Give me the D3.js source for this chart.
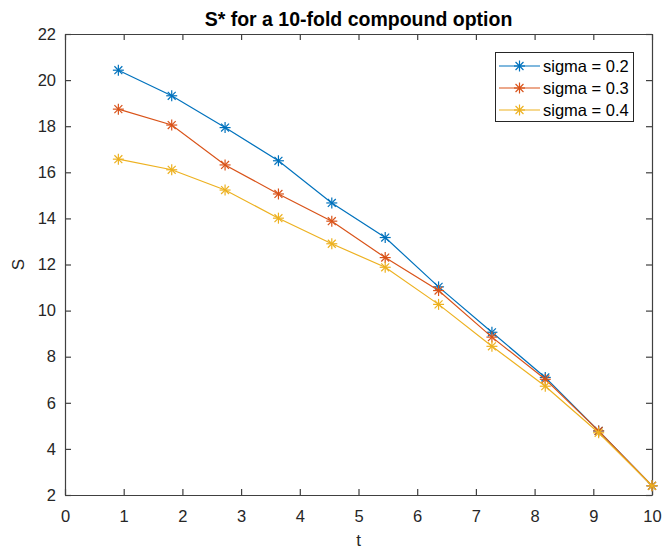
<!doctype html>
<html>
<head>
<style>
  body { margin: 0; background: #fff; }
  text { font-family: "Liberation Sans", Arial, Helvetica, sans-serif; }
  .axis text { font-size: 16.5px; fill: #262626; }
  .axis path, .axis line { stroke: #404040; stroke-width: 1.2; }
</style>
<script src="https://d3js.org/d3.v7.min.js"></script>
</head>
<body>
<svg width="662" height="550"></svg>
<script>

// t values (x axis)
var tValues = [0.909, 1.818, 2.727, 3.636, 4.545, 5.455, 6.364, 7.273, 8.182, 9.091, 10];

// S* values
var sigma02 = [20.43, 19.32, 17.94, 16.5, 14.67, 13.17, 11.03, 9.06, 7.1, 4.78, 2.4];
var sigma03 = [18.74, 18.05, 16.32, 15.06, 13.88, 12.3, 10.87, 8.85, 7.02, 4.78, 2.4];
var sigma04 = [16.57, 16.11, 15.23, 14.01, 12.9, 11.88, 10.27, 8.45, 6.72, 4.7, 2.4];

var seriesNames = ["sigma = 0.2", "sigma = 0.3", "sigma = 0.4"];
var seriesColors = ["#0072BD", "#D95319", "#EDB120"];

var xTicks = [0, 1, 2, 3, 4, 5, 6, 7, 8, 9, 10];
var yTicks = [2, 4, 6, 8, 10, 12, 14, 16, 18, 20, 22];

var svg = d3.select("svg");

var plotLeft = 65, plotRight = 652, plotTop = 34, plotBottom = 495;

var x = d3.scaleLinear().domain([0, 10]).range([plotLeft, plotRight]);
var y = d3.scaleLinear().domain([2, 22]).range([plotBottom, plotTop]);

// axes, ticks pointing inward like matlab
svg.append("g")
   .attr("class", "axis")
   .attr("transform", "translate(0," + plotBottom + ")")
   .call(d3.axisBottom(x).tickValues(xTicks).tickSizeInner(-6).tickSizeOuter(0).tickPadding(15));

svg.append("g")
   .attr("class", "axis")
   .attr("transform", "translate(0," + plotTop + ")")
   .call(d3.axisTop(x).tickValues(xTicks).tickSizeInner(-6).tickSizeOuter(0).tickFormat(""));

svg.append("g")
   .attr("class", "axis")
   .attr("transform", "translate(" + plotLeft + ",0)")
   .call(d3.axisLeft(y).tickValues(yTicks).tickSizeInner(-6).tickSizeOuter(0).tickPadding(9));

svg.append("g")
   .attr("class", "axis")
   .attr("transform", "translate(" + plotRight + ",0)")
   .call(d3.axisRight(y).tickValues(yTicks).tickSizeInner(-6).tickSizeOuter(0).tickFormat(""));

svg.selectAll(".axis text").attr("font-size", "16.5px");

// title and axis labels
svg.append("text")
   .attr("x", (plotLeft + plotRight) / 2)
   .attr("y", 26)
   .attr("text-anchor", "middle")
   .attr("font-weight", "bold")
   .attr("font-size", "19.5px")
   .attr("fill", "#000")
   .text("S* for a 10-fold compound option");

svg.append("text")
   .attr("x", (plotLeft + plotRight) / 2)
   .attr("y", 546)
   .attr("text-anchor", "middle")
   .attr("font-size", "17px")
   .attr("fill", "#262626")
   .text("t");

svg.append("text")
   .attr("transform", "translate(24," + ((plotTop + plotBottom) / 2) + ") rotate(-90)")
   .attr("text-anchor", "middle")
   .attr("font-size", "17px")
   .attr("fill", "#262626")
   .text("S");

// asterisk marker
function star(g, cx, cy, color) {
    var r = 5.5, d = r * 0.72;
    var segs = [[-r, 0, r, 0], [0, -r, 0, r], [-d, -d, d, d], [-d, d, d, -d]];
    segs.forEach(function(s) {
        g.append("line")
         .attr("x1", cx + s[0]).attr("y1", cy + s[1])
         .attr("x2", cx + s[2]).attr("y2", cy + s[3])
         .attr("stroke", color)
         .attr("stroke-width", 1.2);
    });
}

var allSeries = [sigma02, sigma03, sigma04];

var line = d3.line()
    .x(function(d, i) { return x(tValues[i]); })
    .y(function(d) { return y(d); });

allSeries.forEach(function(vals, k) {
    svg.append("path")
       .datum(vals)
       .attr("fill", "none")
       .attr("stroke", seriesColors[k])
       .attr("stroke-width", 1.2)
       .attr("d", line);
    var mg = svg.append("g");
    vals.forEach(function(v, i) {
        star(mg, x(tValues[i]), y(v), seriesColors[k]);
    });
});

// legend
var lg = svg.append("g");
lg.append("rect")
  .attr("x", 495.5).attr("y", 52.5)
  .attr("width", 138).attr("height", 69)
  .attr("fill", "#fff")
  .attr("stroke", "#262626")
  .attr("stroke-width", 1);

seriesNames.forEach(function(name, k) {
    var ry = 66 + k * 22;
    lg.append("line")
      .attr("x1", 499).attr("x2", 540)
      .attr("y1", ry).attr("y2", ry)
      .attr("stroke", seriesColors[k])
      .attr("stroke-width", 1.2);
    star(lg, 519.5, ry, seriesColors[k]);
    lg.append("text")
      .attr("x", 543)
      .attr("y", ry)
      .attr("dy", "0.35em")
      .attr("font-size", "16.5px")
      .attr("fill", "#000")
      .text(name);
});

</script>
</body>
</html>
